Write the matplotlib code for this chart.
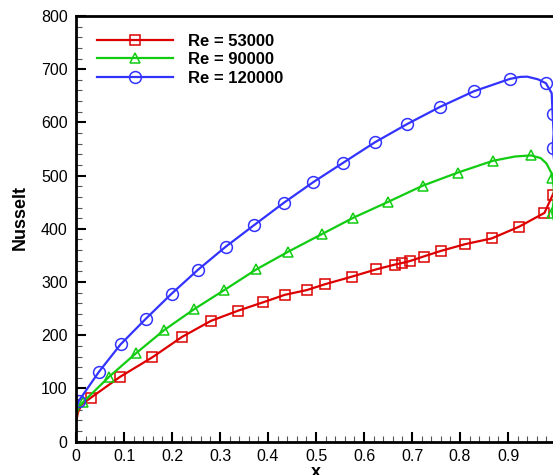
import matplotlib
matplotlib.use('Agg')
import matplotlib.pyplot as plt
from matplotlib.ticker import MultipleLocator, FormatStrFormatter
from matplotlib.legend_handler import HandlerTuple

plt.rcParams['font.family'] = ['Liberation Sans', 'DejaVu Sans']

labels = ['Re = 53000', 'Re = 90000', 'Re = 120000']
colors = ['#dd0000', '#11cc11', '#3333ff']
markers = ['s', '^', 'o']
msizes = [6.5, 7.5, 8.5]

# curve points (line)
x_red = [0.0, 0.004, 0.012, 0.031, 0.092, 0.159, 0.221, 0.281, 0.337, 0.39, 0.435,
         0.481, 0.519, 0.574, 0.626, 0.665, 0.68, 0.696, 0.724, 0.76, 0.811, 0.866,
         0.923, 0.976, 0.993, 1.01]
y_red = [35, 55, 70, 82.7, 122, 158.6, 197, 227, 246, 262, 276,
         285, 296, 310, 324, 333, 336, 339.6, 348, 358.5, 371.3, 382,
         404, 430, 463.7, 500]
x_green = [0.0, 0.006, 0.015, 0.069, 0.126, 0.184, 0.246, 0.309, 0.376, 0.442, 0.512,
           0.578, 0.651, 0.722, 0.795, 0.869, 0.915, 0.948, 0.968, 0.98, 0.991, 0.995,
           0.996, 0.992, 1.0]
y_green = [50, 65, 74.6, 122, 167, 210, 249, 285, 324, 357, 390,
           421, 451, 481, 505.6, 528, 536, 538, 533, 523, 504, 480,
           460, 430, 400]
x_blue = [0.0, 0.006, 0.048, 0.093, 0.145, 0.199, 0.254, 0.312, 0.371, 0.433,
          0.494, 0.557, 0.623, 0.69, 0.758, 0.829, 0.904, 0.925, 0.94, 0.9625, 0.979,
          0.991, 0.993, 0.995, 0.993, 1.0]
y_blue = [62, 77, 131.6, 183, 230.6, 278, 323, 366.5, 407, 449,
          487.6, 524.4, 562.8, 597, 629, 658.6, 681.8, 685.5, 686, 681, 673.6,
          655, 615, 580, 551, 500]

# symbol points
xm_red = [0.031, 0.092, 0.159, 0.221, 0.281, 0.337, 0.39, 0.435, 0.481, 0.519, 0.574,
          0.626, 0.665, 0.68, 0.696, 0.724, 0.76, 0.811, 0.866, 0.923, 0.976, 0.993]
ym_red = [82.7, 122, 158.6, 197, 227, 246, 262, 276, 285, 296, 310,
          324, 333, 336, 339.6, 348, 358.5, 371.3, 382, 404, 430, 463.7]
xm_green = [0.015, 0.069, 0.126, 0.184, 0.246, 0.309, 0.376, 0.442, 0.512, 0.578,
            0.651, 0.722, 0.795, 0.869, 0.948, 0.992, 0.992]
ym_green = [74.6, 122, 167, 210, 249, 285, 324, 357, 390, 421,
            451, 481, 505.6, 528, 538, 495, 430]
xm_blue = [0.006, 0.048, 0.093, 0.145, 0.199, 0.254, 0.312, 0.371, 0.433, 0.494,
           0.557, 0.623, 0.69, 0.758, 0.829, 0.904, 0.979, 0.993, 0.993]
ym_blue = [77, 131.6, 183, 230.6, 278, 323, 366.5, 407, 449, 487.6,
           524.4, 562.8, 597, 629, 658.6, 681.8, 673.6, 615, 551]

lines = [(x_red, y_red), (x_green, y_green), (x_blue, y_blue)]
syms = [(xm_red, ym_red), (xm_green, ym_green), (xm_blue, ym_blue)]

fig = plt.figure(figsize=(5.53, 4.75), dpi=100)
ax = fig.add_axes([76/553, 33.3/475, 480/553, 425.7/475])

handles = []
for (lx, ly), (mx, my), c, m, ms in zip(lines, syms, colors, markers, msizes):
    l, = ax.plot(lx, ly, '-', color=c, lw=1.6)
    p, = ax.plot(mx, my, m, ls='none', mfc='none', mec=c, ms=ms, mew=1.1)
    handles.append((l, p))

ax.set_xlim(0, 1)
ax.set_ylim(0, 800)
ax.xaxis.set_major_locator(MultipleLocator(0.1))
ax.xaxis.set_minor_locator(MultipleLocator(0.02))
ax.yaxis.set_major_locator(MultipleLocator(100))
ax.yaxis.set_minor_locator(MultipleLocator(20))
ax.xaxis.set_major_formatter(FormatStrFormatter('%g'))
ax.yaxis.set_major_formatter(FormatStrFormatter('%g'))
ax.tick_params(which='major', direction='in', length=7, width=1.5, labelsize=11.5)
ax.tick_params(which='minor', direction='in', length=4, width=0.8, color='#555555')
ax.tick_params(axis='x', pad=5)
ax.tick_params(axis='y', pad=6)
for s in ax.spines.values():
    s.set_linewidth(2)

fig.text(20/553, 1 - 217/475, 'Nusselt', rotation=90, ha='center', va='center',
         fontsize=13, fontweight='bold')
fig.text(316/553, -2.4/475, 'x', ha='center', va='baseline',
         fontsize=13, fontweight='bold')

ax.legend(handles, labels, handler_map={tuple: HandlerTuple(ndivide=1)},
          loc='upper left', bbox_to_anchor=(0.012, 0.993), frameon=False,
          numpoints=1, handlelength=4.6, handletextpad=0.85, labelspacing=0.2,
          prop={'weight': 'bold', 'size': 12})

plt.savefig('out.png', dpi=100)
